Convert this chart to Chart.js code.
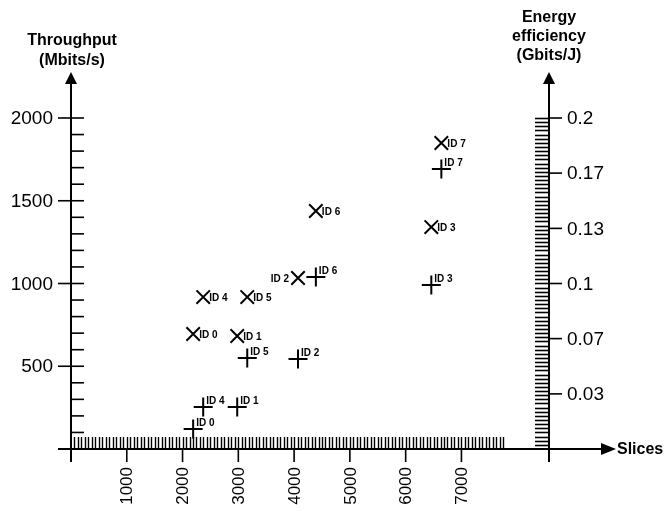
<!DOCTYPE html>
<html>
<head>
<meta charset="utf-8">
<script src="https://cdn.jsdelivr.net/npm/chart.js@4.4.0/dist/chart.umd.min.js"></script>
<style>
  html, body { margin: 0; padding: 0; background: #fff; }
</style>
</head>
<body>
<canvas id="chart" width="665" height="511"></canvas>
<script>
const ids = ['ID 0', 'ID 1', 'ID 2', 'ID 3', 'ID 4', 'ID 5', 'ID 6', 'ID 7'];
const slices = [2190, 2980, 4070, 6460, 2370, 3160, 4390, 6640];
const throughput = [121, 254, 544, 991, 254, 550, 1039, 1692];
const efficiency = [0.0695, 0.0683, 0.1033, 0.1341, 0.0918, 0.0918, 0.1438, 0.1849];

const sliceTicks = [1000, 2000, 3000, 4000, 5000, 6000, 7000];
const throughputTicks = [500, 1000, 1500, 2000];
const efficiencyTicks = [0.0333, 0.0667, 0.1, 0.1333, 0.1667, 0.2];
const efficiencyTickLabels = ['0.03', '0.07', '0.1', '0.13', '0.17', '0.2'];

const FONT = '"Liberation Sans", Arial, Helvetica, sans-serif';

function line(ctx, x1, y1, x2, y2) {
    ctx.beginPath();
    ctx.moveTo(x1, y1);
    ctx.lineTo(x2, y2);
    ctx.stroke();
}

function arrowUp(ctx, x, tip) {
    ctx.beginPath();
    ctx.moveTo(x, tip);
    ctx.lineTo(x - 6, tip + 12);
    ctx.lineTo(x + 6, tip + 12);
    ctx.closePath();
    ctx.fill();
}

function arrowRight(ctx, tip, y) {
    ctx.beginPath();
    ctx.moveTo(tip, y);
    ctx.lineTo(tip - 15, y - 6);
    ctx.lineTo(tip - 15, y + 6);
    ctx.closePath();
    ctx.fill();
}

const axesPlugin = {
    id: 'handAxes',
    beforeDatasetsDraw(chart) {
        const ctx = chart.ctx;
        const xs = chart.scales.x, ys = chart.scales.y, ys2 = chart.scales.y2;
        const x0 = xs.getPixelForValue(0);
        const xr = xs.right;
        const yb = ys.getPixelForValue(0);

        ctx.save();
        ctx.strokeStyle = '#000';
        ctx.fillStyle = '#000';

        // main axis lines
        ctx.lineWidth = 2;
        line(ctx, x0, yb + 13, x0, 84);
        arrowUp(ctx, x0, 72);
        line(ctx, xr, yb + 13, xr, 84);
        arrowUp(ctx, xr, 72);
        line(ctx, 58, yb, 602, yb);
        arrowRight(ctx, 616, yb);

        // slices hatch
        ctx.lineWidth = 1.4;
        for (let v = 62.5; v <= 7750; v += 62.5) {
            const px = Math.round(xs.getPixelForValue(v)) + 0.5;
            line(ctx, px, yb - 12, px, yb);
        }
        // throughput minor ticks
        ctx.lineWidth = 1.6;
        for (let v = 100; v < 2000; v += 100) {
            if (v % 500 === 0) continue;
            const py = ys.getPixelForValue(v);
            line(ctx, x0, py, x0 + 13, py);
        }
        // efficiency hatch
        ctx.lineWidth = 1.6;
        for (let v = 0.0025; v <= 0.2001; v += 0.0025) {
            const py = Math.round(ys2.getPixelForValue(v)) + 0.5;
            line(ctx, xr - 14, py, xr, py);
        }

        // major ticks
        ctx.lineWidth = 1.6;
        sliceTicks.forEach(v => {
            const px = xs.getPixelForValue(v);
            line(ctx, px, yb, px, yb + 13);
        });
        throughputTicks.forEach(v => {
            const py = ys.getPixelForValue(v);
            line(ctx, x0 - 13, py, x0 + 13, py);
        });
        efficiencyTicks.forEach(v => {
            const py = ys2.getPixelForValue(v);
            line(ctx, xr, py, xr + 13, py);
        });

        // tick labels
        ctx.font = '19px ' + FONT;
        ctx.textBaseline = 'middle';
        ctx.textAlign = 'right';
        throughputTicks.forEach(v => {
            ctx.fillText(String(v), x0 - 18, ys.getPixelForValue(v) + 1);
        });
        ctx.textAlign = 'left';
        efficiencyTicks.forEach((v, i) => {
            ctx.fillText(efficiencyTickLabels[i], xr + 18, ys2.getPixelForValue(v) + 1);
        });
        ctx.font = '17px ' + FONT;
        sliceTicks.forEach(v => {
            ctx.save();
            ctx.translate(xs.getPixelForValue(v), yb + 18);
            ctx.rotate(-Math.PI / 2);
            ctx.textAlign = 'right';
            ctx.textBaseline = 'middle';
            ctx.fillText(String(v), 0, 1);
            ctx.restore();
        });

        // axis titles
        ctx.font = 'bold 16px ' + FONT;
        ctx.textAlign = 'center';
        ctx.textBaseline = 'alphabetic';
        ctx.fillText('Throughput', x0 + 1, 45);
        ctx.fillText('(Mbits/s)', x0 + 1, 65);
        ctx.fillText('Energy', xr, 22);
        ctx.fillText('efficiency', xr, 41);
        ctx.fillText('(Gbits/J)', xr, 60);
        ctx.textAlign = 'left';
        ctx.textBaseline = 'middle';
        ctx.fillText('Slices', 617, yb + 1);

        ctx.restore();
    },
    afterDatasetsDraw(chart) {
        const ctx = chart.ctx;
        ctx.save();
        ctx.fillStyle = '#000';
        ctx.font = 'bold 10px ' + FONT;
        ctx.textBaseline = 'alphabetic';
        chart.getDatasetMeta(0).data.forEach((pt, i) => {
            ctx.textAlign = 'left';
            ctx.fillText(ids[i], pt.x + 3, pt.y - 3);
        });
        chart.getDatasetMeta(1).data.forEach((pt, i) => {
            if (ids[i] === 'ID 2') {
                ctx.textAlign = 'right';
                ctx.fillText(ids[i], pt.x - 9, pt.y + 4);
            } else {
                ctx.textAlign = 'left';
                ctx.fillText(ids[i], pt.x + 6, pt.y + 4);
            }
        });
        ctx.restore();
    }
};

new Chart(document.getElementById('chart').getContext('2d'), {
    type: 'scatter',
    data: {
        datasets: [{
            label: 'Throughput',
            data: slices.map((s, i) => ({ x: s, y: throughput[i] })),
            yAxisID: 'y',
            pointStyle: 'cross',
            pointRadius: 9.5,
            pointHoverRadius: 9.5,
            borderColor: '#000',
            backgroundColor: '#000',
            pointBorderWidth: 2,
            clip: false
        }, {
            label: 'Energy efficiency',
            data: slices.map((s, i) => ({ x: s, y: efficiency[i] })),
            yAxisID: 'y2',
            pointStyle: 'crossRot',
            pointRadius: 9.5,
            pointHoverRadius: 9.5,
            borderColor: '#000',
            backgroundColor: '#000',
            pointBorderWidth: 2,
            clip: false
        }]
    },
    options: {
        responsive: false,
        animation: false,
        devicePixelRatio: 1,
        layout: { padding: { left: 71, right: 116, top: 118, bottom: 62 } },
        scales: {
            x: { type: 'linear', min: 0, max: 8570, display: false },
            y: { type: 'linear', min: 0, max: 2000, display: false },
            y2: { type: 'linear', min: 0, max: 0.2, display: false, position: 'right' }
        },
        plugins: {
            legend: { display: false },
            tooltip: { enabled: false }
        }
    },
    plugins: [axesPlugin]
});
</script>
</body>
</html>
